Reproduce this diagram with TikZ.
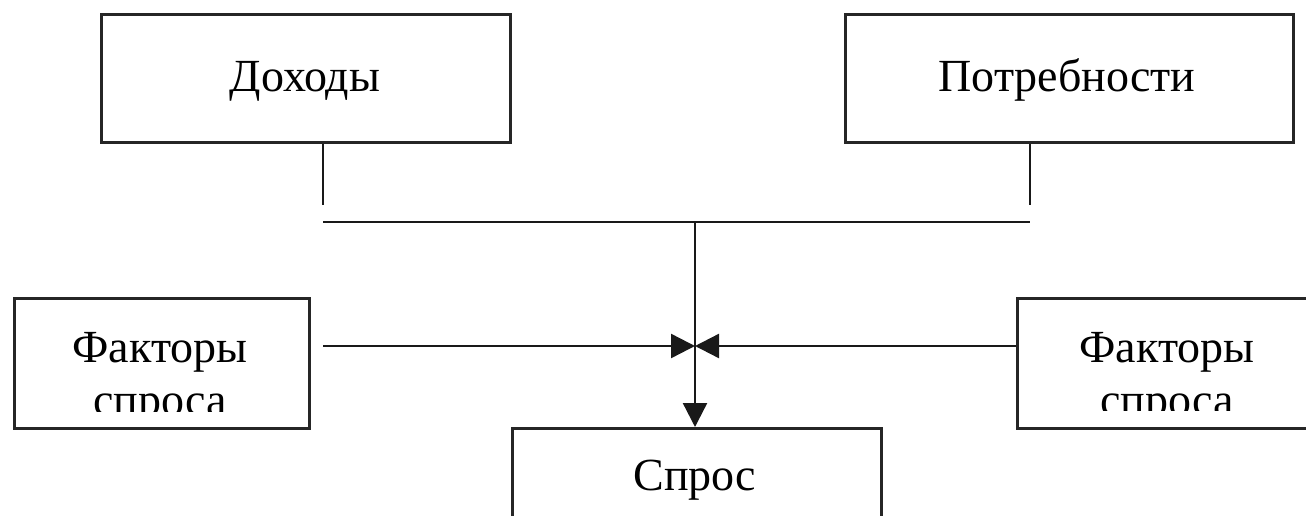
\documentclass[tikz,border=0pt]{standalone}
\usepackage{fontspec}
\setmainfont{Liberation Serif}
\usetikzlibrary{arrows.meta}
\begin{document}
\begin{tikzpicture}[x=1pt,y=-1pt,
  box/.style={draw=black!85, line width=2.6pt, minimum height=128pt, inner sep=0pt, anchor=north west},
  lbl/.style={font=\fontsize{46}{53}\selectfont, align=center, inner sep=0pt},
  conn/.style={line width=2.4pt, draw=black!90},
  arr/.style={conn, -{Triangle[length=24pt,width=24pt]}}]
\useasboundingbox (0,0) rectangle (1306,516);
\fill[white] (0,0) rectangle (1306,516);
% top boxes
\node[box, minimum width=409pt] (doh) at (100,13) {};
\node[lbl, anchor=base] (doht) at (305,92) {Доходы};
\node[box, minimum width=448pt] (pot) at (844,13) {};
\node[lbl, anchor=base] (pott) at (1067,92) {Потребности};
% side boxes
\node[box, minimum width=295pt, minimum height=130pt] (fl) at (13,297) {};
\node[box, minimum width=300pt, minimum height=130pt] (fr) at (1016,297) {};
\begin{scope}
  \clip (fl.north west) rectangle (308,411);
  \node[lbl, anchor=base] (flt) at (160,415) {Факторы\\спроса};
\end{scope}
\begin{scope}
  \clip (fr.north west) rectangle (1320,410);
  \node[lbl, anchor=base] (frt) at (1167,415) {Факторы\\спроса};
\end{scope}
% bottom box
\node[box, minimum width=369pt, minimum height=110pt] (spr) at (511,427) {};
\node[lbl, anchor=base] (sprt) at (695,490) {Спрос};
% connectors
\coordinate (d1) at (323,205);
\coordinate (p1) at (1030,205);
\coordinate (hl) at (323,222);
\coordinate (hr) at (1030,222);
\coordinate (hc) at (695,222);
\coordinate (lstart) at (323,346);
\coordinate (mid) at (695,346);
\draw[conn] (doh.south -| d1) -- (d1);
\draw[conn] (pot.south -| p1) -- (p1);
\draw[conn] (hl) -- (hr);
\draw[arr] (hc) -- (hc |- spr.north);
\draw[arr] (lstart) -- (mid);
\draw[arr] (fr.west |- mid) -- (mid);
\end{tikzpicture}
\end{document}
